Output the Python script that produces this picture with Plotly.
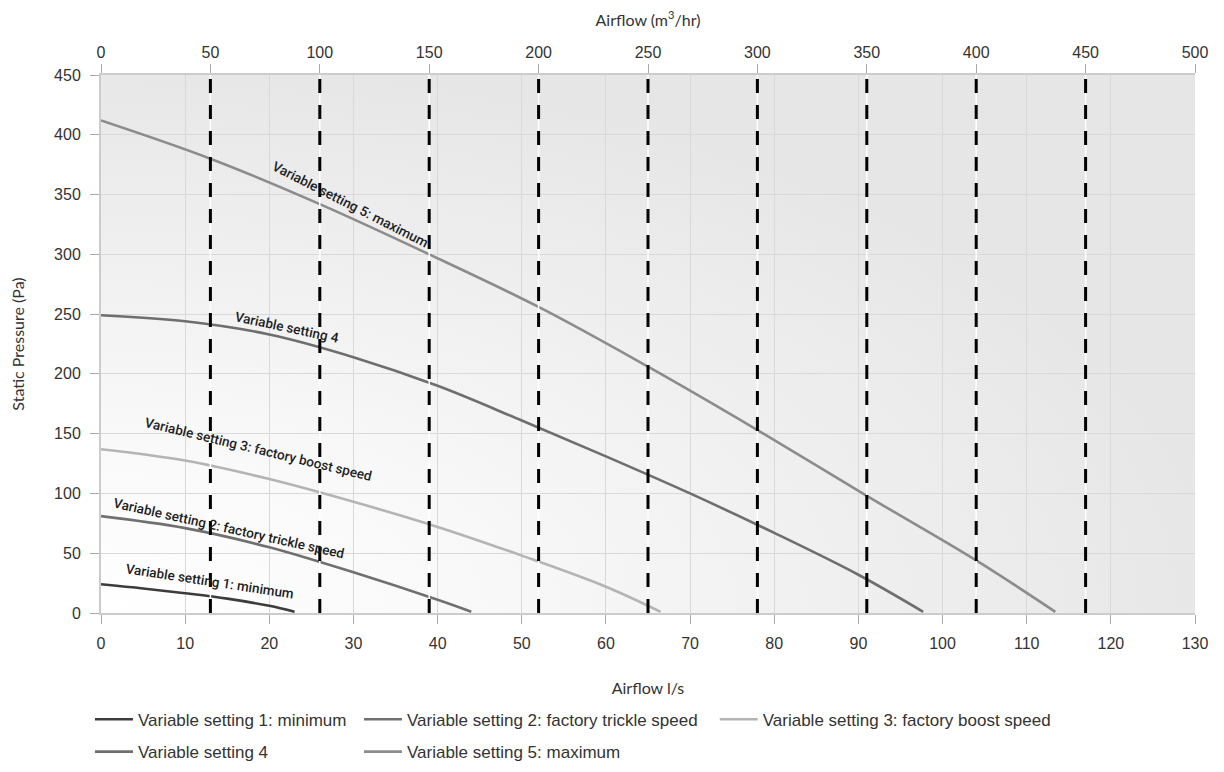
import base64
import plotly.graph_objects as go

# ---------------- data ----------------
s1_x = [0, 5, 10, 15, 20, 23]
s1_y = [24, 20.5, 16.5, 12, 6, 1]

s2_x = [0, 10, 20, 30, 40, 44]
s2_y = [81, 71, 55, 34, 11, 1]

s3_x = [0, 10, 20, 30, 40, 50, 60, 66.5]
s3_y = [137, 127.5, 112, 93, 72, 48, 22, 1]

s4_x = [0, 10, 20, 30, 40, 50, 60, 70, 80, 90, 97.7]
s4_y = [249, 244, 233, 214, 190, 161, 131, 100, 67, 32, 1]

s5_x = [0, 13, 26, 39, 52, 65, 78, 91, 104, 113.4]
s5_y = [412, 380, 342, 300, 256, 206, 153, 98, 44, 1]

series_names = [
    "Variable setting 1: minimum",
    "Variable setting 2: factory trickle speed",
    "Variable setting 3: factory boost speed",
    "Variable setting 4",
    "Variable setting 5: maximum",
]
series_colors = ["#3c3c3c", "#707070", "#b4b4b4", "#6e6e6e", "#8c8c8c"]

# vertical reference lines, in m3/hr (top axis)
marker_airflow_m3h = [50, 100, 150, 200, 250, 300, 350, 400, 450]

# curve labels
label_text = ["Variable setting 5: maximum", "Variable setting 4",
              "Variable setting 3: factory boost speed",
              "Variable setting 2: factory trickle speed",
              "Variable setting 1: minimum"]
label_x = [29.6, 22.1, 18.7, 15.2, 13.0]
label_y = [342, 239, 137, 71, 26.8]
label_angle = [27, 12, 13.5, 12.5, 8.6]

x_ls_ticks = list(range(0, 131, 10))
x_m3h_ticks = list(range(0, 501, 50))
y_ticks = list(range(0, 451, 50))

# ---------------- figure ----------------
fig = go.Figure()

vx, vy = [], []
for v in marker_airflow_m3h:
    vx += [v, v, None]
    vy += [0, 450, None]
fig.add_trace(go.Scatter(x=vx, y=vy, xaxis="x2", yaxis="y", mode="lines",
                         line=dict(color="white", width=1.5),
                         showlegend=False, hoverinfo="skip"))
fig.add_trace(go.Scatter(x=vx, y=vy, xaxis="x2", yaxis="y", mode="lines",
                         line=dict(color="black", width=3, dash="14px,12px"),
                         showlegend=False, hoverinfo="skip"))

xs = [s1_x, s2_x, s3_x, s4_x, s5_x]
ys = [s1_y, s2_y, s3_y, s4_y, s5_y]
legend_ids = ["legend", "legend2", "legend3", "legend4", "legend5"]
for i in range(5):
    fig.add_trace(go.Scatter(
        x=xs[i], y=ys[i], mode="lines", name=series_names[i],
        line=dict(color=series_colors[i], width=2.6, shape="spline", smoothing=1.0),
        legend=legend_ids[i], xaxis="x", yaxis="y"))

for t, x, y, a in zip(label_text, label_x, label_y, label_angle):
    fig.add_annotation(x=x, y=y, xref="x", yref="y", text=t, textangle=a,
                       showarrow=False, xanchor="center", yanchor="middle",
                       font=dict(family="Roboto, Liberation Sans, Arial", size=13.5,
                                 color="#1e1e1e", weight=500))

# radial-gradient background
svg = ('<svg xmlns="http://www.w3.org/2000/svg" width="1094" height="538" '
       'viewBox="0 0 1094 538" preserveAspectRatio="none">'
       '<defs><radialGradient id="g" cx="0" cy="1" r="1.05" '
       'gradientUnits="objectBoundingBox">'
       '<stop offset="0" stop-color="#ffffff"/>'
       '<stop offset="0.35" stop-color="#f8f8f8"/>'
       '<stop offset="0.7" stop-color="#eeeeee"/>'
       '<stop offset="1" stop-color="#e6e6e6"/>'
       '</radialGradient></defs>'
       '<rect x="0" y="0" width="1094" height="538" fill="url(#g)"/></svg>')
src = "data:image/svg+xml;base64," + base64.b64encode(svg.encode()).decode()
fig.add_layout_image(dict(source=src, xref="paper", yref="paper", x=0, y=1,
                          sizex=1, sizey=1, sizing="stretch", xanchor="left",
                          yanchor="top", layer="below"))

tick_font = dict(family="Liberation Sans, Arial", size=16, color="#333333")
title_font = dict(family="Lato, Open Sans, sans-serif", size=16, color="#333333")
legend_font = dict(family="Liberation Sans, Arial", size=17, color="#333333")

# legend placement (paper fractions of plot area): two rows
legend_xpos = [-0.0101, 0.2358, 0.5610, -0.0101, 0.2358]
legend_ypos = [-0.165, -0.165, -0.165, -0.225, -0.225]
legend_layout = {}
for lid, lx, ly in zip(legend_ids, legend_xpos, legend_ypos):
    legend_layout[lid] = dict(orientation="h", x=lx, y=ly, xanchor="left",
                              yanchor="top", itemwidth=38, font=legend_font,
                              bgcolor="rgba(0,0,0,0)")

fig.update_layout(
    width=1224, height=772,
    # the page body adds an 8px offset; margins compensate for it
    margin=dict(l=93, r=37, t=67, b=167, autoexpand=False),
    paper_bgcolor="white", plot_bgcolor="rgba(0,0,0,0)",
    xaxis=dict(range=[0, 130], tickvals=x_ls_ticks, showgrid=True,
               gridcolor="#d9d9d9", gridwidth=1, zeroline=False,
               ticks="outside", ticklen=9, tickcolor="#aaaaaa",
               ticklabelstandoff=6, automargin=False,
               showline=True, linecolor="#cccccc", linewidth=2,
               tickfont=tick_font,
               title=dict(text="Airflow l/s", font=title_font, standoff=32)),
    xaxis2=dict(range=[0, 500], tickvals=x_m3h_ticks, overlaying="x",
                side="top", showgrid=False, zeroline=False,
                ticks="outside", ticklen=9, tickcolor="#aaaaaa",
                automargin=False,
                showline=True, linecolor="#cccccc", linewidth=2,
                tickfont=tick_font,
                title=dict(text="Airflow (m<sup>3</sup>/hr)", font=title_font,
                           standoff=14)),
    yaxis=dict(range=[0, 450], tickvals=y_ticks, showgrid=True,
               gridcolor="#d9d9d9", gridwidth=1, zeroline=False,
               ticks="outside", ticklen=9, tickcolor="#aaaaaa",
               ticklabelstandoff=6, automargin=False,
               showline=True, linecolor="#cccccc", linewidth=2,
               tickfont=tick_font,
               title=dict(text="Static Pressure (Pa)", font=title_font, standoff=26)),
    showlegend=True,
    **legend_layout,
)

fig.write_html("out.html")
